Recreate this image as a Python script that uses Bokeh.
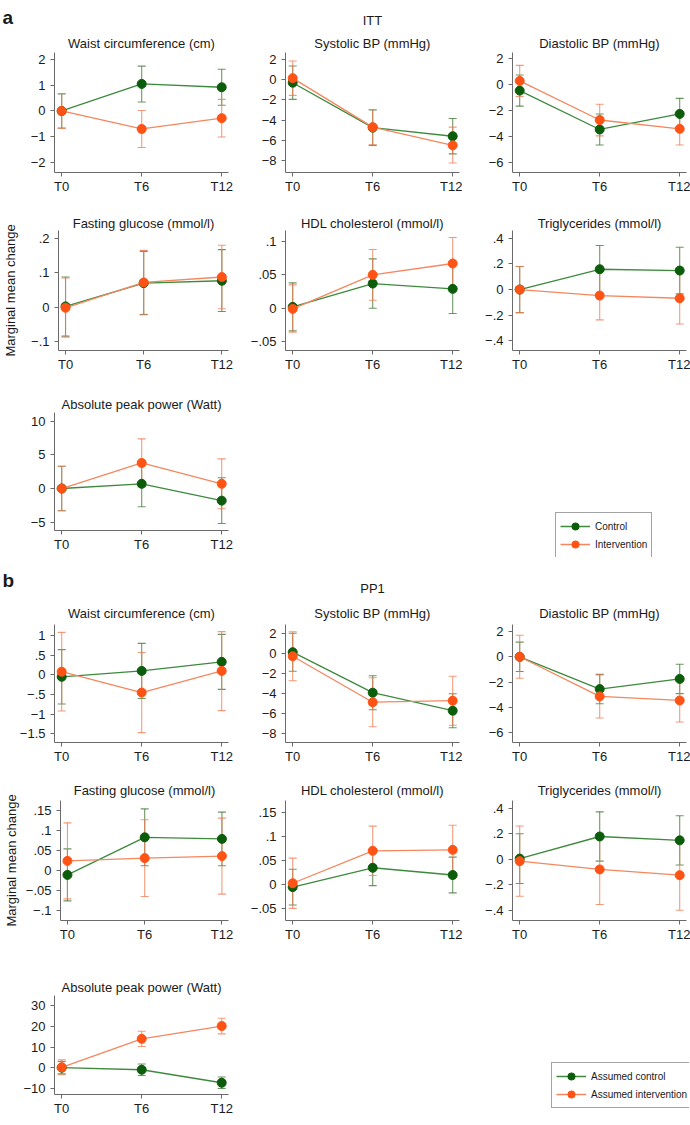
import math
from bokeh.plotting import figure
from bokeh.models import (Range1d, FixedTicker, Whisker, TeeHead, ColumnDataSource,
                          Title, Legend, LegendItem, Spacer)
from bokeh.layouts import column, row
from bokeh.embed import file_html
from bokeh.resources import INLINE

# ---------------- data ----------------
time_points = [0, 1, 2]
time_labels = ["T0", "T6", "T12"]
outcome_titles = ["Waist circumference (cm)", "Systolic BP (mmHg)", "Diastolic BP (mmHg)",
                  "Fasting glucose (mmol/l)", "HDL cholesterol (mmol/l)", "Triglycerides (mmol/l)",
                  "Absolute peak power (Watt)"]
panel_a_label = "a"
panel_b_label = "b"
panel_a_header = "ITT"
panel_b_header = "PP1"
y_axis_title = "Marginal mean change"
legend_a = ["Control", "Intervention"]
legend_b = ["Assumed control", "Assumed intervention"]

# ITT (panel a)
itt_waist_ctrl = [0.0, 1.05, 0.92]
itt_waist_ctrl_lo = [-0.66, 0.35, 0.22]
itt_waist_ctrl_hi = [0.66, 1.74, 1.62]
itt_waist_int = [0.0, -0.70, -0.28]
itt_waist_int_lo = [-0.68, -1.42, -1.01]
itt_waist_int_hi = [0.68, 0.02, 0.45]
itt_waist_ticks = [-2, -1, 0, 1, 2]
itt_waist_tick_labels = ["−2", "−1", "0", "1", "2"]

itt_sys_ctrl = [-0.30, -4.75, -5.60]
itt_sys_ctrl_lo = [-1.95, -6.50, -7.35]
itt_sys_ctrl_hi = [1.35, -3.00, -3.85]
itt_sys_int = [0.15, -4.70, -6.50]
itt_sys_int_lo = [-1.55, -6.45, -8.25]
itt_sys_int_hi = [1.85, -2.95, -4.70]
itt_sys_ticks = [-8, -6, -4, -2, 0, 2]
itt_sys_tick_labels = ["−8", "−6", "−4", "−2", "0", "2"]

itt_dia_ctrl = [-0.45, -3.45, -2.25]
itt_dia_ctrl_lo = [-1.65, -4.65, -3.45]
itt_dia_ctrl_hi = [0.75, -2.25, -1.05]
itt_dia_int = [0.30, -2.72, -3.40]
itt_dia_int_lo = [-0.90, -3.94, -4.65]
itt_dia_int_hi = [1.50, -1.50, -2.17]
itt_dia_ticks = [-6, -4, -2, 0, 2]
itt_dia_tick_labels = ["−6", "−4", "−2", "0", "2"]

itt_glu_ctrl = [0.002, 0.070, 0.077]
itt_glu_ctrl_lo = [-0.085, -0.022, -0.013]
itt_glu_ctrl_hi = [0.088, 0.163, 0.168]
itt_glu_int = [-0.002, 0.072, 0.088]
itt_glu_int_lo = [-0.088, -0.021, -0.005]
itt_glu_int_hi = [0.085, 0.166, 0.181]
itt_glu_ticks = [-0.1, 0, 0.1, 0.2]
itt_glu_tick_labels = ["−.1", "0", ".1", ".2"]

itt_hdl_ctrl = [0.002, 0.037, 0.029]
itt_hdl_ctrl_lo = [-0.034, 0.000, -0.008]
itt_hdl_ctrl_hi = [0.038, 0.074, 0.066]
itt_hdl_int = [-0.001, 0.050, 0.067]
itt_hdl_int_lo = [-0.036, 0.012, 0.029]
itt_hdl_int_hi = [0.035, 0.088, 0.106]
itt_hdl_ticks = [-0.05, 0, 0.05, 0.1]
itt_hdl_tick_labels = ["−.05", "0", ".05", ".1"]

itt_tg_ctrl = [0.0, 0.158, 0.148]
itt_tg_ctrl_lo = [-0.18, -0.027, -0.034]
itt_tg_ctrl_hi = [0.18, 0.343, 0.330]
itt_tg_int = [0.0, -0.047, -0.068]
itt_tg_int_lo = [-0.18, -0.236, -0.268]
itt_tg_int_hi = [0.18, 0.142, 0.132]
itt_tg_ticks = [-0.4, -0.2, 0, 0.2, 0.4]
itt_tg_tick_labels = ["−.4", "−.2", "0", ".2", ".4"]

itt_pow_ctrl = [0.0, 0.7, -1.8]
itt_pow_ctrl_lo = [-3.3, -2.7, -5.2]
itt_pow_ctrl_hi = [3.3, 4.1, 1.6]
itt_pow_int = [0.0, 3.8, 0.7]
itt_pow_int_lo = [-3.3, 0.25, -3.0]
itt_pow_int_hi = [3.3, 7.38, 4.4]
itt_pow_ticks = [-5, 0, 5, 10]
itt_pow_tick_labels = ["−5", "0", "5", "10"]

# PP1 (panel b)
pp_waist_ctrl = [-0.05, 0.10, 0.33]
pp_waist_ctrl_lo = [-0.74, -0.60, -0.37]
pp_waist_ctrl_hi = [0.64, 0.80, 1.03]
pp_waist_int = [0.08, -0.45, 0.10]
pp_waist_int_lo = [-0.92, -1.47, -0.91]
pp_waist_int_hi = [1.08, 0.57, 1.10]
pp_waist_ticks = [-1.5, -1, -0.5, 0, 0.5, 1]
pp_waist_tick_labels = ["−1.5", "−1", "−.5", "0", ".5", "1"]

pp_sys_ctrl = [0.10, -3.95, -5.75]
pp_sys_ctrl_lo = [-1.80, -5.65, -7.45]
pp_sys_ctrl_hi = [2.00, -2.25, -4.05]
pp_sys_int = [-0.30, -4.90, -4.75]
pp_sys_int_lo = [-2.75, -7.35, -7.20]
pp_sys_int_hi = [2.15, -2.45, -2.30]
pp_sys_ticks = [-8, -6, -4, -2, 0, 2]
pp_sys_tick_labels = ["−8", "−6", "−4", "−2", "0", "2"]

pp_dia_ctrl = [0.0, -2.55, -1.75]
pp_dia_ctrl_lo = [-1.16, -3.71, -2.91]
pp_dia_ctrl_hi = [1.16, -1.39, -0.59]
pp_dia_int = [0.0, -3.13, -3.45]
pp_dia_int_lo = [-1.70, -4.83, -5.15]
pp_dia_int_hi = [1.70, -1.43, -1.75]
pp_dia_ticks = [-6, -4, -2, 0, 2]
pp_dia_tick_labels = ["−6", "−4", "−2", "0", "2"]

pp_glu_ctrl = [-0.011, 0.083, 0.079]
pp_glu_ctrl_lo = [-0.076, 0.012, 0.012]
pp_glu_ctrl_hi = [0.054, 0.154, 0.146]
pp_glu_int = [0.024, 0.031, 0.036]
pp_glu_int_lo = [-0.071, -0.065, -0.059]
pp_glu_int_hi = [0.119, 0.127, 0.131]
pp_glu_ticks = [-0.1, -0.05, 0, 0.05, 0.1, 0.15]
pp_glu_tick_labels = ["−.1", "−.05", "0", ".05", ".1", ".15"]

pp_hdl_ctrl = [-0.005, 0.035, 0.020]
pp_hdl_ctrl_lo = [-0.042, -0.002, -0.017]
pp_hdl_ctrl_hi = [0.032, 0.072, 0.057]
pp_hdl_int = [0.003, 0.070, 0.072]
pp_hdl_int_lo = [-0.049, 0.019, 0.021]
pp_hdl_int_hi = [0.055, 0.121, 0.123]
pp_hdl_ticks = [-0.05, 0, 0.05, 0.1, 0.15]
pp_hdl_tick_labels = ["−.05", "0", ".05", ".1", ".15"]

pp_tg_ctrl = [0.005, 0.178, 0.148]
pp_tg_ctrl_lo = [-0.19, -0.015, -0.045]
pp_tg_ctrl_hi = [0.20, 0.371, 0.341]
pp_tg_int = [-0.015, -0.080, -0.125]
pp_tg_int_lo = [-0.29, -0.355, -0.400]
pp_tg_int_hi = [0.26, 0.195, 0.150]
pp_tg_ticks = [-0.4, -0.2, 0, 0.2, 0.4]
pp_tg_tick_labels = ["−.4", "−.2", "0", ".2", ".4"]

pp_pow_ctrl = [0.0, -1.0, -7.3]
pp_pow_ctrl_lo = [-3.0, -3.8, -10.1]
pp_pow_ctrl_hi = [3.0, 1.8, -4.5]
pp_pow_int = [0.2, 14.0, 20.2]
pp_pow_int_lo = [-3.4, 10.3, 16.4]
pp_pow_int_hi = [3.8, 17.7, 24.0]
pp_pow_ticks = [-10, 0, 10, 20, 30]
pp_pow_tick_labels = ["−10", "0", "10", "20", "30"]

# ---------------- style / layout ----------------
FONT = "Liberation Sans"
TXT = "#1a1a1a"
AXIS = "#6a6a6a"
GREEN_DOT = "#0b5d0b"
GREEN_LINE = "#3d8a3d"
GREEN_CI = "#3f7433"
ORANGE_DOT = "#ff5316"
ORANGE_LINE = "#f4875e"
ORANGE_CI = "#f07a52"

COL_W = [236, 226, 228]
COL_LEFT = [54, 49, 50]
FRAME_W = 174
X_RANGE = (-0.09, 2.085)

# (fig height, border top, frame height, border bottom)
A_ROWS = [(200, 52, 120, 28), (178, 30, 120, 28), (179, 34, 118, 27)]
B_ROWS = [(213, 67, 118, 28), (178, 30, 120, 28), (177, 47, 99, 31)]
# subplot title placement per row: (vertical_align, standoff)
A_TITLE = [("top", 0), ("bottom", 0), ("bottom", 1)]
B_TITLE = [("top", 4), ("bottom", 6), ("bottom", 2)]

A_YR = [(-2.39, 2.27), (-9.19, 2.69), (-6.77, 2.49),
        (-0.127, 0.224), (-0.0634, 0.1165), (-0.475, 0.46),
        (-6.24, 11.3)]
B_YR = [(-1.72, 1.28), (-8.93, 2.87), (-6.77, 2.55),
        (-0.125, 0.175), (-0.074, 0.174), (-0.48, 0.46),
        (-13.0, 35.0)]

itt_specs = [
    (itt_waist_ctrl, itt_waist_ctrl_lo, itt_waist_ctrl_hi, itt_waist_int, itt_waist_int_lo, itt_waist_int_hi, itt_waist_ticks, itt_waist_tick_labels),
    (itt_sys_ctrl, itt_sys_ctrl_lo, itt_sys_ctrl_hi, itt_sys_int, itt_sys_int_lo, itt_sys_int_hi, itt_sys_ticks, itt_sys_tick_labels),
    (itt_dia_ctrl, itt_dia_ctrl_lo, itt_dia_ctrl_hi, itt_dia_int, itt_dia_int_lo, itt_dia_int_hi, itt_dia_ticks, itt_dia_tick_labels),
    (itt_glu_ctrl, itt_glu_ctrl_lo, itt_glu_ctrl_hi, itt_glu_int, itt_glu_int_lo, itt_glu_int_hi, itt_glu_ticks, itt_glu_tick_labels),
    (itt_hdl_ctrl, itt_hdl_ctrl_lo, itt_hdl_ctrl_hi, itt_hdl_int, itt_hdl_int_lo, itt_hdl_int_hi, itt_hdl_ticks, itt_hdl_tick_labels),
    (itt_tg_ctrl, itt_tg_ctrl_lo, itt_tg_ctrl_hi, itt_tg_int, itt_tg_int_lo, itt_tg_int_hi, itt_tg_ticks, itt_tg_tick_labels),
    (itt_pow_ctrl, itt_pow_ctrl_lo, itt_pow_ctrl_hi, itt_pow_int, itt_pow_int_lo, itt_pow_int_hi, itt_pow_ticks, itt_pow_tick_labels),
]
pp_specs = [
    (pp_waist_ctrl, pp_waist_ctrl_lo, pp_waist_ctrl_hi, pp_waist_int, pp_waist_int_lo, pp_waist_int_hi, pp_waist_ticks, pp_waist_tick_labels),
    (pp_sys_ctrl, pp_sys_ctrl_lo, pp_sys_ctrl_hi, pp_sys_int, pp_sys_int_lo, pp_sys_int_hi, pp_sys_ticks, pp_sys_tick_labels),
    (pp_dia_ctrl, pp_dia_ctrl_lo, pp_dia_ctrl_hi, pp_dia_int, pp_dia_int_lo, pp_dia_int_hi, pp_dia_ticks, pp_dia_tick_labels),
    (pp_glu_ctrl, pp_glu_ctrl_lo, pp_glu_ctrl_hi, pp_glu_int, pp_glu_int_lo, pp_glu_int_hi, pp_glu_ticks, pp_glu_tick_labels),
    (pp_hdl_ctrl, pp_hdl_ctrl_lo, pp_hdl_ctrl_hi, pp_hdl_int, pp_hdl_int_lo, pp_hdl_int_hi, pp_hdl_ticks, pp_hdl_tick_labels),
    (pp_tg_ctrl, pp_tg_ctrl_lo, pp_tg_ctrl_hi, pp_tg_int, pp_tg_int_lo, pp_tg_int_hi, pp_tg_ticks, pp_tg_tick_labels),
    (pp_pow_ctrl, pp_pow_ctrl_lo, pp_pow_ctrl_hi, pp_pow_int, pp_pow_int_lo, pp_pow_int_hi, pp_pow_ticks, pp_pow_tick_labels),
]


def style_title(t, size="13px", style="normal", align="center", standoff=2, offset=0,
                valign="bottom"):
    t.text_font = FONT
    t.text_font_size = size
    t.text_font_style = style
    t.text_color = TXT
    t.align = align
    t.vertical_align = valign
    t.standoff = standoff
    t.offset = offset


def make_plot(spec, title, yr, col, rowdims, title_place, outer=None):
    ctrl, ctrl_lo, ctrl_hi, intv, intv_lo, intv_hi, ticks, tick_labels = spec
    h, btop, fh, bbot = rowdims
    w = COL_W[col]
    p = figure(width=w, height=h, output_backend="svg", toolbar_location=None,
               x_range=Range1d(*X_RANGE), y_range=Range1d(*yr),
               min_border_left=COL_LEFT[col], min_border_right=w - COL_LEFT[col] - FRAME_W,
               min_border_top=btop, min_border_bottom=bbot)
    valign, so = title_place
    if outer is None:
        p.title.text = title
        style_title(p.title, standoff=so, valign=valign)
    else:
        # outer (figure) title = panel letter / header, inner added title = subplot title
        text, kw = outer
        p.title.text = text
        style_title(p.title, **kw)
        t_in = Title(text=title)
        style_title(t_in, standoff=so, valign=valign)
        p.add_layout(t_in, "above")
    p.outline_line_color = None
    p.grid.visible = False
    for ax in (p.xaxis[0], p.yaxis[0]):
        ax.axis_line_color = AXIS
        ax.axis_line_width = 1
        ax.major_tick_line_color = AXIS
        ax.major_tick_in = 0
        ax.major_tick_out = 4
        ax.minor_tick_line_color = None
        ax.major_label_text_font = FONT
        ax.major_label_text_font_size = "13px"
        ax.major_label_text_color = TXT
        ax.major_label_standoff = 5
    p.xaxis.major_label_standoff = 2
    p.xaxis.ticker = FixedTicker(ticks=time_points)
    p.xaxis.major_label_overrides = {t: l for t, l in zip(time_points, time_labels)}
    p.yaxis.ticker = FixedTicker(ticks=ticks)
    p.yaxis.major_label_overrides = {t: l for t, l in zip(ticks, tick_labels)}

    for vals, lo, hi, dot, line, ci in ((ctrl, ctrl_lo, ctrl_hi, GREEN_DOT, GREEN_LINE, GREEN_CI),
                                        (intv, intv_lo, intv_hi, ORANGE_DOT, ORANGE_LINE, ORANGE_CI)):
        src = ColumnDataSource(dict(x=time_points, y=vals, lo=lo, hi=hi))
        wk = Whisker(base="x", lower="lo", upper="hi", source=src,
                     line_color=ci, line_alpha=0.75, line_width=1.1,
                     upper_head=TeeHead(size=8, line_color=ci, line_alpha=0.75, line_width=1.1),
                     lower_head=TeeHead(size=8, line_color=ci, line_alpha=0.75, line_width=1.1))
        p.add_layout(wk)
        p.line("x", "y", source=src, line_color=line, line_width=1.3)
        p.scatter("x", "y", source=src, size=9, marker="circle",
                  fill_color=dot, line_color=dot)
    return p


def legend_fig(w, h, labels, spec):
    lf = figure(width=w, height=h, output_backend="svg", toolbar_location=None,
                x_range=Range1d(10, 11), y_range=Range1d(10, 11), min_border=0,
                x_axis_location=None, y_axis_location=None)
    lf.outline_line_color = None
    lf.grid.visible = False
    ctrl, intv = spec[0], spec[3]
    items = []
    for lab, vals, dot, line in zip(labels, (ctrl, intv), (GREEN_DOT, ORANGE_DOT),
                                    (GREEN_LINE, ORANGE_LINE)):
        src = ColumnDataSource(dict(x=time_points, y=vals))
        r1 = lf.line("x", "y", source=src, line_color=line, line_width=1.5)
        r2 = lf.scatter("x", "y", source=src, marker="circle", size=9,
                        fill_color=dot, line_color=dot)
        items.append(LegendItem(label=lab, renderers=[r1, r2]))
    lg = Legend(items=items, location="top_left", orientation="vertical",
                border_line_color="#4a4a4a", border_line_width=1,
                background_fill_color="white", background_fill_alpha=1,
                label_text_font=FONT, label_text_font_size="10px", label_text_color=TXT,
                glyph_width=30, glyph_height=18, label_height=18, spacing=0,
                padding=4, margin=0, label_standoff=5)
    lf.add_layout(lg, "center")
    return lf


def build_panel(specs, rows_dims, title_places, yrs, letter, header, legend_labels,
                legend_box, ylab_standoff, letter_standoff, header_standoff):
    figs = []
    for i, spec in enumerate(specs):
        r = i // 3
        c = i % 3
        outer = None
        if i == 0:
            outer = (letter, dict(size="19px", style="bold", align="left", valign="top",
                                  standoff=letter_standoff, offset=-COL_LEFT[0] + 2))
        elif i == 1:
            outer = (header, dict(standoff=header_standoff, valign="top"))
        figs.append(make_plot(spec, outcome_titles[i], yrs[i], c, rows_dims[r],
                              title_places[r], outer))
    # y axis title on middle row
    ax = figs[3].yaxis[0]
    ax.axis_label = y_axis_title
    ax.axis_label_text_font = FONT
    ax.axis_label_text_font_size = "13px"
    ax.axis_label_text_font_style = "normal"
    ax.axis_label_text_color = TXT
    ax.axis_label_standoff = ylab_standoff
    gap_x, gap_y, lw, lh = legend_box
    lf = legend_fig(lw, lh, legend_labels, specs[6])
    legend_col = column(Spacer(width=lw, height=gap_y), lf)
    return column(row(figs[0], figs[1], figs[2]),
                  row(figs[3], figs[4], figs[5]),
                  row(figs[6], Spacer(width=gap_x, height=10), legend_col))


panel_a = build_panel(itt_specs, A_ROWS, A_TITLE, A_YR, panel_a_label, panel_a_header,
                      legend_a, (555 - 236, 512 - 378, 100, 45), 10, 11, 11)
panel_b = build_panel(pp_specs, B_ROWS, B_TITLE, B_YR, panel_b_label, panel_b_header,
                      legend_b, (551 - 236, 1062 - 948, 138, 46), 4, 22, 11)
layout = column(panel_a, panel_b)

open("out.html", "w").write(file_html(layout, INLINE))
